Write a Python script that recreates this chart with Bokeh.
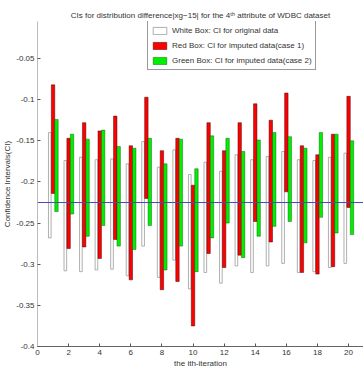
from bokeh.plotting import figure
from bokeh.models import (ColumnDataSource, Range1d, FixedTicker, Legend, LegendItem, Span)
from bokeh.transform import dodge
from bokeh.embed import file_html
from bokeh.resources import INLINE

# ---- data ----
iterations = list(range(1, 21))
white_hi = [-0.140, -0.174, -0.170, -0.173, -0.172, -0.178, -0.151, -0.182, -0.161, -0.191,
            -0.176, -0.187, -0.167, -0.173, -0.169, -0.163, -0.173, -0.174, -0.170, -0.165]
white_lo = [-0.268, -0.308, -0.309, -0.307, -0.306, -0.314, -0.278, -0.316, -0.295, -0.330,
            -0.310, -0.323, -0.302, -0.310, -0.302, -0.299, -0.310, -0.309, -0.304, -0.299]
red_hi = [-0.082, -0.147, -0.128, -0.138, -0.120, -0.156, -0.097, -0.162, -0.147, -0.204,
          -0.128, -0.162, -0.128, -0.105, -0.125, -0.092, -0.156, -0.167, -0.142, -0.096]
red_lo = [-0.214, -0.281, -0.279, -0.293, -0.270, -0.319, -0.220, -0.331, -0.321, -0.375,
          -0.287, -0.304, -0.289, -0.248, -0.273, -0.212, -0.310, -0.312, -0.303, -0.231]
green_hi = [-0.124, -0.142, -0.148, -0.137, -0.157, -0.159, -0.147, -0.178, -0.148, -0.184,
            -0.144, -0.147, -0.163, -0.149, -0.140, -0.145, -0.159, -0.140, -0.142, -0.150]
green_lo = [-0.236, -0.239, -0.266, -0.253, -0.278, -0.282, -0.253, -0.307, -0.278, -0.309,
            -0.268, -0.250, -0.292, -0.266, -0.254, -0.248, -0.274, -0.243, -0.262, -0.264]
reference_line = -0.225
y_ticks = [-0.4, -0.35, -0.3, -0.25, -0.2, -0.15, -0.1, -0.05]
y_tick_labels = ["-0.4", "-0.35", "-0.3", "-0.25", "-0.2", "-0.15", "-0.1", "-0.05"]
x_ticks = [0, 2, 4, 6, 8, 10, 12, 14, 16, 18, 20]

legend_labels = ["White Box: CI for original data",
                 "Red Box: CI for imputed data(case 1)",
                 "Green Box: CI for imputed data(case 2)"]

src = ColumnDataSource(dict(it=iterations, wh=white_hi, wl=white_lo,
                            rh=red_hi, rl=red_lo, gh=green_hi, gl=green_lo))

FONT = "Liberation Sans"

p = figure(width=363, height=374, output_backend="svg", toolbar_location=None,
           x_range=Range1d(0, 20.96), y_range=Range1d(-0.4, -0.005),
           min_border_left=35, min_border_right=0, min_border_top=21, min_border_bottom=28)

p.title.text = "CIs for distribution difference|xg\u221215| for the 4\u1d57\u02b0 attribute of WDBC dataset"
p.title.align = "center"
p.title.text_font = FONT
p.title.text_font_size = "8px"
p.title.text_font_style = "normal"
p.title.text_color = "#333333"
p.title.standoff = 4

p.outline_line_color = None
p.xgrid.visible = False
p.ygrid.visible = False
p.background_fill_color = "white"
p.border_fill_color = "white"

rw = p.vbar(x=dodge("it", -0.21, range=p.x_range), width=0.17, top="wh", bottom="wl", source=src,
            fill_color="white", line_color="#9a9a9a", line_width=0.8)
rr = p.vbar(x="it", width=0.22, top="rh", bottom="rl", source=src,
            fill_color="#ff0000", line_color="#400000", line_alpha=0.6, line_width=0.8)
rg = p.vbar(x=dodge("it", 0.22, range=p.x_range), width=0.22, top="gh", bottom="gl", source=src,
            fill_color="#00f000", line_color="#004000", line_alpha=0.5, line_width=0.8)

p.add_layout(Span(location=reference_line, dimension="width", line_color="#4a4ab8", line_width=1))

for ax in (p.xaxis[0], p.yaxis[0]):
    ax.major_tick_in = 3
    ax.major_tick_out = 0
    ax.minor_tick_line_color = None
    ax.major_label_text_font = FONT
    ax.major_label_text_font_size = "8px"
    ax.major_label_text_color = "#333333"
    ax.axis_label_text_font = FONT
    ax.axis_label_text_font_size = "8px"
    ax.axis_label_text_font_style = "normal"
    ax.axis_label_text_color = "#333333"
    ax.axis_label_standoff = 1
    ax.major_label_standoff = 3
    ax.major_tick_line_color = "#555555"

p.xaxis.ticker = FixedTicker(ticks=x_ticks)
p.xaxis.axis_label = "the ith-iteration"
p.xaxis.axis_line_color = "#666666"
p.yaxis.ticker = FixedTicker(ticks=y_ticks)
p.yaxis.major_label_overrides = {t: s for t, s in zip(y_ticks, y_tick_labels)}
p.yaxis.axis_label = "Confidence Intervals(CI)"
p.yaxis.axis_line_color = "#bbbbbb"

legend = Legend(items=[LegendItem(label=legend_labels[0], renderers=[rw]),
                       LegendItem(label=legend_labels[1], renderers=[rr]),
                       LegendItem(label=legend_labels[2], renderers=[rg])],
                location=(110, 276))
legend.label_text_font = FONT
legend.label_text_font_size = "8px"
legend.label_text_color = "#333333"
legend.glyph_width = 17
legend.glyph_height = 9
legend.label_height = 12
legend.label_standoff = 4
legend.padding = 3
legend.spacing = 3
legend.margin = 0
legend.border_line_color = "#333333"
legend.border_line_width = 1
legend.background_fill_alpha = 1
p.add_layout(legend)

open("out.html", "w").write(file_html(p, INLINE))
